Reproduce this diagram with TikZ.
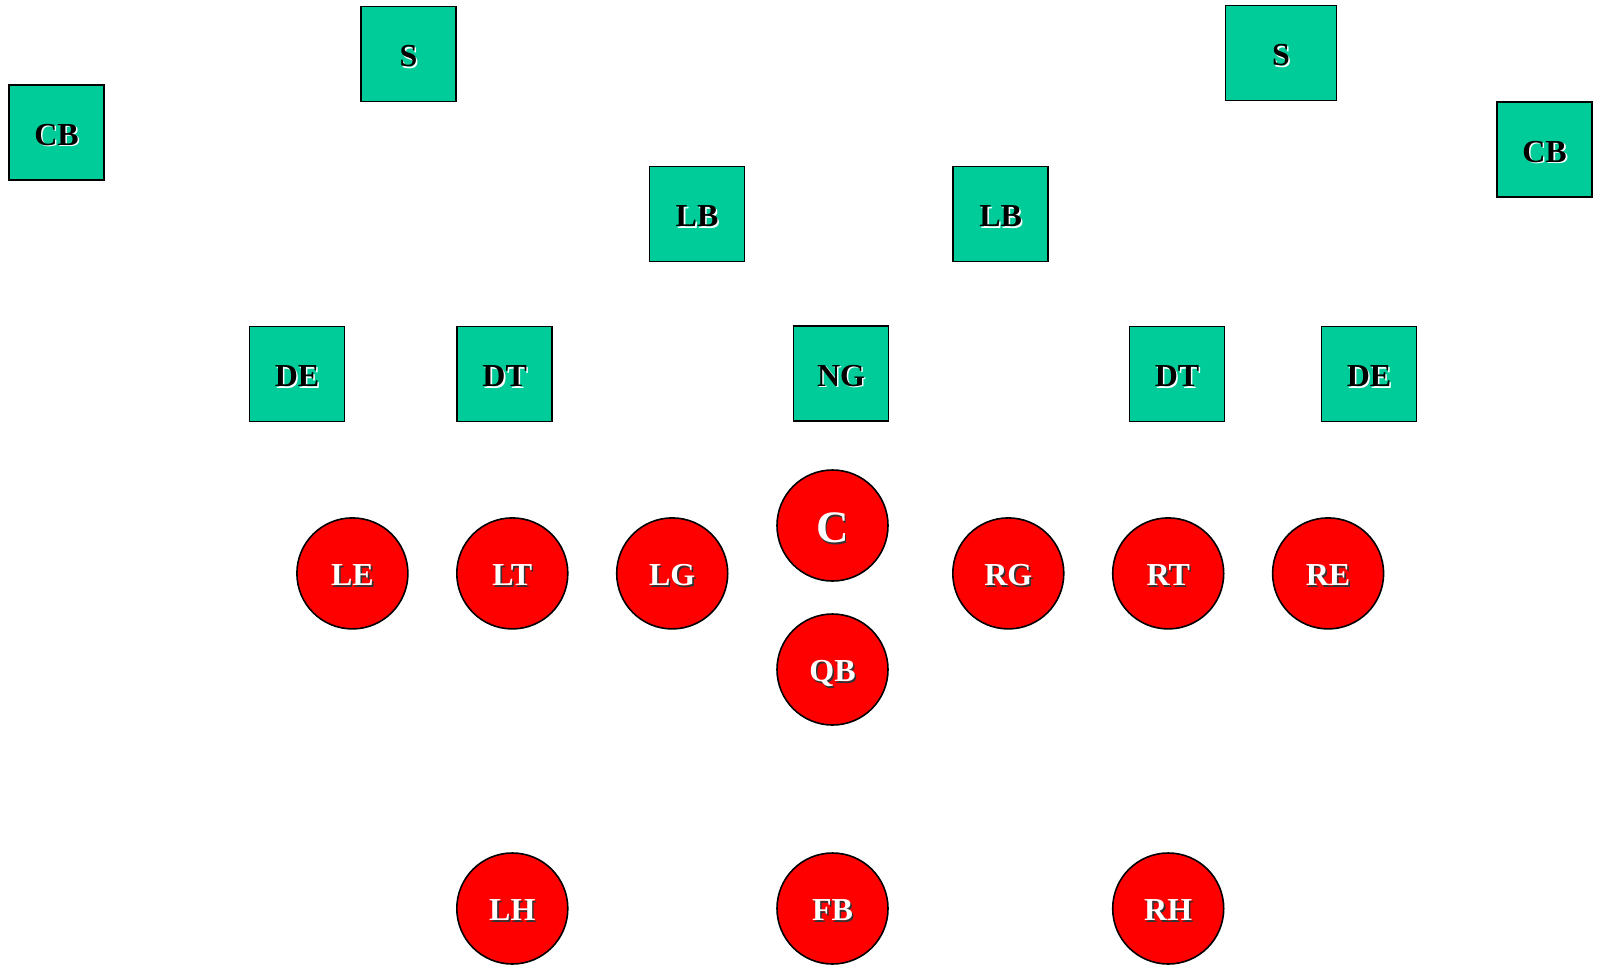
\documentclass[tikz,border=0pt]{standalone}
\usepackage{fontspec}
\setmainfont{Liberation Serif}
\usetikzlibrary{positioning}

\definecolor{defgreen}{RGB}{0,204,153}
\definecolor{offred}{RGB}{255,0,0}

% text with a small drop shadow
\newcommand{\shadtxt}[3]{\makebox[0pt][l]{\hspace{1.6pt}\raisebox{-1.6pt}{\color{#1}#3}}{\color{#2}#3}}

\begin{document}
\begin{tikzpicture}[
    x=1pt, y=-1pt,
    defbox/.style={draw, line width=1.6pt, fill=defgreen, minimum width=95pt,
        minimum height=95pt, inner sep=0pt, text height=25pt, text depth=0pt,
        font=\fontsize{32}{32}\selectfont\bfseries},
    offball/.style={draw, circle, line width=1.6pt, fill=offred, minimum size=111pt,
        inner sep=0pt, text height=24pt, text depth=0pt,
        font=\fontsize{32}{32}\selectfont\bfseries}
    ]

    \useasboundingbox (0,0) rectangle (1597,967);

    % defence
    \node[defbox] (cb_left) at (56.5,132.5) {\shadtxt{white}{black}{CB}};
    \node[defbox] (s_left) at (408.4,54) {\shadtxt{white}{black}{S}};
    \node[defbox, minimum width=111pt] (s_right) at (1281,53) {\shadtxt{white}{black}{S}};
    \node[defbox] (cb_right) at (1544.5,149.5) {\shadtxt{white}{black}{CB}};

    \node[defbox] (lb_left) at (697,214) {\shadtxt{white}{black}{LB}};
    \node[defbox] (lb_right) at (1000.6,214) {\shadtxt{white}{black}{LB}};

    \node[defbox] (de_left) at (297,374) {\shadtxt{white}{black}{DE}};
    \node[defbox] (dt_left) at (504.7,374) {\shadtxt{white}{black}{DT}};
    \node[defbox] (ng) at (841,373.5) {\shadtxt{white}{black}{NG}};
    \node[defbox] (dt_right) at (1177,374) {\shadtxt{white}{black}{DT}};
    \node[defbox] (de_right) at (1369,374) {\shadtxt{white}{black}{DE}};


    % offence
    \node[offball, text height=34pt, font=\fontsize{45}{45}\selectfont\bfseries] (c) at (832.5,525.5) {\shadtxt{black!80}{white}{C}};
    \node[offball] (le) at (352.4,573.4) {\shadtxt{black!80}{white}{LE}};
    \node[offball] (lt) at (512.3,573.4) {\shadtxt{black!80}{white}{LT}};
    \node[offball] (lg) at (672.2,573.4) {\shadtxt{black!80}{white}{LG}};
    \node[offball] (rg) at (1008.3,573.4) {\shadtxt{black!80}{white}{RG}};
    \node[offball] (rt) at (1168.2,573.4) {\shadtxt{black!80}{white}{RT}};
    \node[offball] (re) at (1328.1,573.4) {\shadtxt{black!80}{white}{RE}};

    \node[offball] (qb) at (832.5,669.5) {\shadtxt{black!80}{white}{QB}};

    % backfield
    \node[offball] (lh) at (512.3,908.5) {\shadtxt{black!80}{white}{LH}};
    \node[offball] (fb) at (832.5,908.5) {\shadtxt{black!80}{white}{FB}};
    \node[offball] (rh) at (1168.2,908.5) {\shadtxt{black!80}{white}{RH}};

\end{tikzpicture}
\end{document}
